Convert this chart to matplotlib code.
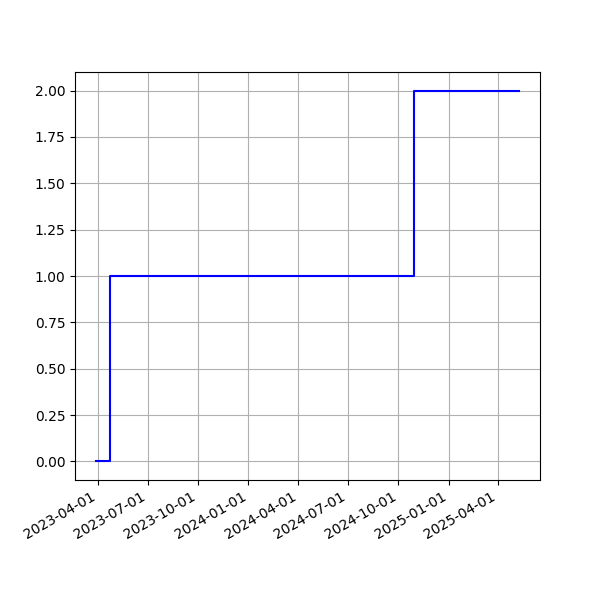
import matplotlib
matplotlib.use('Agg')
import matplotlib.pyplot as plt
import matplotlib.dates as mdates
import numpy as np

dates = np.array(['2023-03-29', '2023-04-23', '2024-10-30', '2025-05-09'], dtype='datetime64[D]')
values = [0, 1, 2, 2]

fig, ax = plt.subplots(figsize=(6, 6), dpi=100)
ax.step(dates, values, where='post', color='blue')
ax.grid(True)
ax.xaxis.set_major_locator(mdates.MonthLocator(bymonth=[1, 4, 7, 10]))
ax.xaxis.set_major_formatter(mdates.DateFormatter('%Y-%m-%d'))
fig.autofmt_xdate()
fig.savefig('out.png')
